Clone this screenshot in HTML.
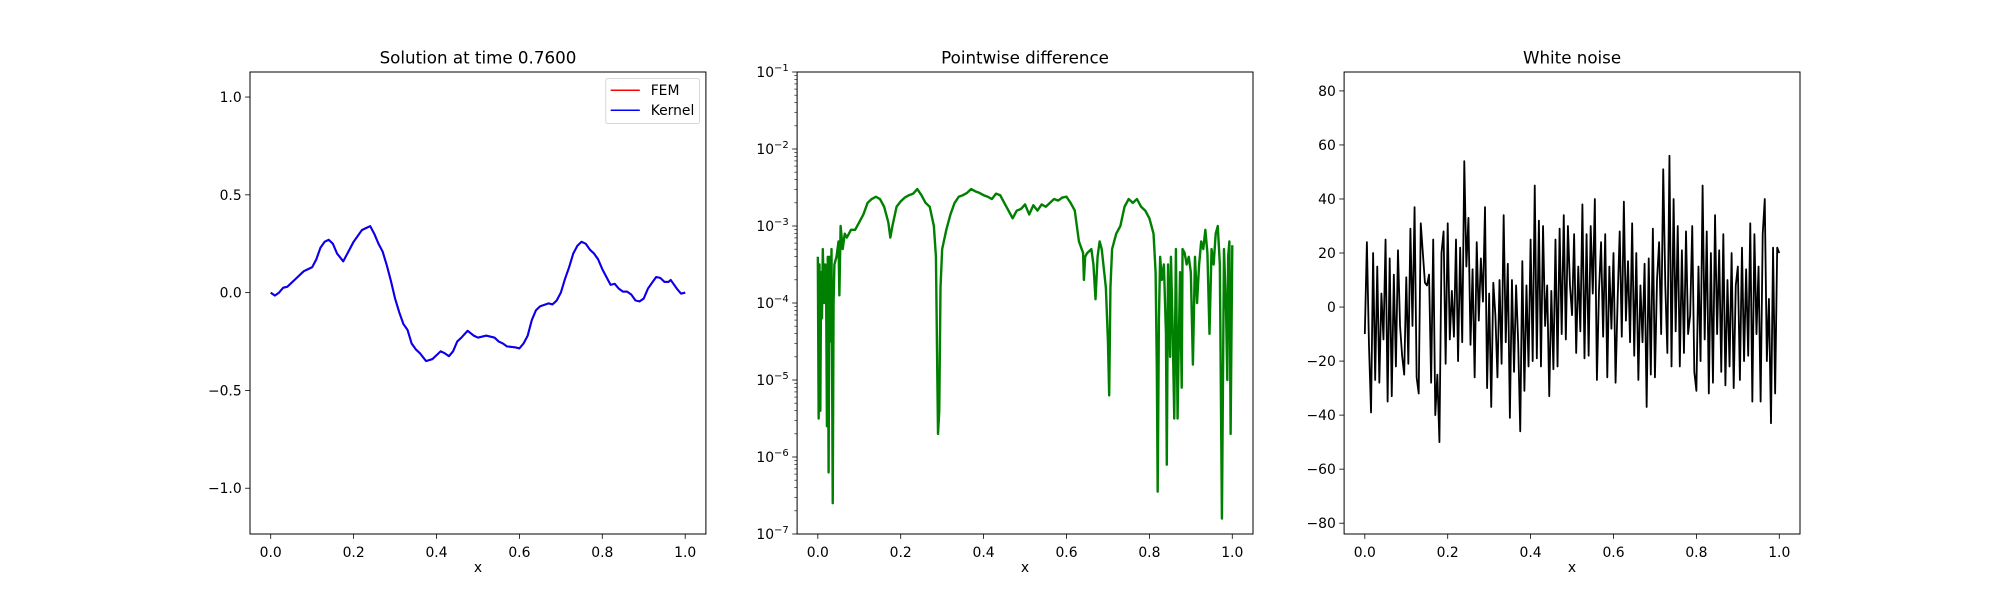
<!DOCTYPE html>
<html><head><meta charset="utf-8"><style>
html,body{margin:0;padding:0;background:#fff}
svg{display:block;font-family:"DejaVu Sans","Liberation Sans",sans-serif}
</style></head><body>
<svg id="fig" width="2000" height="600" viewBox="0 0 2000 600" xmlns="http://www.w3.org/2000/svg"></svg>
<script>
// ---- Data ----
const solX = [0,0.01,0.02,0.03,0.04,0.05,0.06,0.07,0.08,0.09,0.10,0.11,0.12,0.13,0.14,0.15,0.16,0.175,0.19,0.20,0.21,0.22,0.23,0.24,0.25,0.26,0.27,0.28,0.29,0.30,0.31,0.32,0.33,0.34,0.35,0.36,0.375,0.39,0.41,0.42,0.43,0.44,0.45,0.46,0.475,0.49,0.50,0.52,0.54,0.55,0.56,0.57,0.59,0.60,0.61,0.62,0.63,0.64,0.65,0.67,0.68,0.69,0.70,0.71,0.72,0.73,0.74,0.75,0.76,0.77,0.78,0.79,0.80,0.81,0.82,0.83,0.84,0.85,0.86,0.87,0.88,0.89,0.90,0.91,0.92,0.93,0.94,0.95,0.96,0.965,0.98,0.99,1.00];
const solY = [0,-0.015,0,0.025,0.03,0.05,0.07,0.09,0.11,0.12,0.13,0.17,0.23,0.26,0.27,0.25,0.20,0.16,0.22,0.26,0.29,0.32,0.33,0.34,0.30,0.25,0.21,0.14,0.06,-0.03,-0.10,-0.16,-0.19,-0.26,-0.29,-0.31,-0.35,-0.34,-0.30,-0.31,-0.325,-0.30,-0.25,-0.23,-0.195,-0.22,-0.23,-0.22,-0.23,-0.25,-0.26,-0.275,-0.28,-0.285,-0.26,-0.22,-0.14,-0.09,-0.07,-0.055,-0.06,-0.04,0.0,0.07,0.13,0.20,0.24,0.26,0.25,0.22,0.20,0.17,0.12,0.08,0.04,0.045,0.02,0.005,0.005,-0.01,-0.04,-0.045,-0.03,0.02,0.05,0.08,0.075,0.055,0.055,0.065,0.02,-0.005,0.0];
const diffX = [0,0.002,0.004,0.006,0.008,0.01,0.012,0.015,0.018,0.02,0.022,0.024,0.026,0.028,0.03,0.033,0.036,0.038,0.04,0.045,0.05,0.052,0.055,0.06,0.065,0.07,0.08,0.09,0.1,0.11,0.12,0.13,0.14,0.15,0.16,0.17,0.175,0.18,0.19,0.2,0.21,0.22,0.23,0.24,0.25,0.26,0.27,0.28,0.285,0.288,0.29,0.293,0.296,0.3,0.31,0.32,0.33,0.34,0.35,0.36,0.37,0.38,0.39,0.4,0.41,0.42,0.43,0.44,0.45,0.46,0.47,0.48,0.49,0.5,0.51,0.52,0.53,0.54,0.55,0.56,0.57,0.58,0.59,0.6,0.61,0.62,0.63,0.64,0.642,0.645,0.65,0.66,0.665,0.67,0.675,0.68,0.685,0.69,0.695,0.7,0.703,0.706,0.71,0.72,0.73,0.74,0.75,0.76,0.77,0.78,0.79,0.8,0.81,0.815,0.818,0.82,0.823,0.826,0.83,0.835,0.84,0.842,0.845,0.85,0.852,0.856,0.86,0.864,0.868,0.87,0.874,0.878,0.88,0.885,0.89,0.895,0.9,0.905,0.91,0.915,0.92,0.925,0.93,0.935,0.94,0.945,0.95,0.955,0.96,0.965,0.97,0.975,0.98,0.985,0.988,0.99,0.993,0.996,1.0];
const diffLog10 = [-3.4,-5.5,-3.5,-5.4,-3.6,-4.2,-3.3,-4.0,-3.5,-3.8,-5.6,-3.4,-6.2,-3.4,-4.5,-3.3,-6.6,-4.0,-3.5,-3.4,-3.2,-3.9,-3.0,-3.3,-3.1,-3.15,-3.05,-3.05,-2.95,-2.85,-2.7,-2.65,-2.62,-2.65,-2.75,-2.95,-3.15,-3.0,-2.75,-2.68,-2.63,-2.6,-2.58,-2.52,-2.6,-2.7,-2.75,-3.0,-3.4,-4.8,-5.7,-5.4,-3.8,-3.3,-3.05,-2.85,-2.7,-2.62,-2.6,-2.57,-2.52,-2.55,-2.57,-2.6,-2.62,-2.65,-2.58,-2.6,-2.7,-2.8,-2.9,-2.8,-2.78,-2.72,-2.85,-2.73,-2.8,-2.72,-2.75,-2.7,-2.65,-2.67,-2.63,-2.62,-2.7,-2.8,-3.2,-3.35,-3.7,-3.4,-3.35,-3.3,-3.5,-3.95,-3.4,-3.2,-3.3,-3.55,-3.8,-4.5,-5.2,-3.8,-3.3,-3.1,-3.0,-2.75,-2.65,-2.7,-2.65,-2.75,-2.8,-2.9,-3.1,-3.6,-4.9,-6.45,-4.2,-3.4,-3.7,-3.5,-4.4,-6.1,-3.5,-4.7,-3.4,-4.3,-5.5,-3.3,-5.5,-4.8,-3.6,-5.1,-3.3,-3.35,-3.5,-3.4,-3.6,-4.8,-3.4,-4.0,-3.5,-3.2,-3.3,-3.05,-3.35,-4.4,-3.3,-3.5,-3.1,-3.0,-3.5,-6.8,-3.3,-4.1,-5.0,-3.4,-3.2,-5.7,-3.25];
const noiseY = [-10,24,-14,-39,20,-27,15,-28,5,-12,25,-35,18,-33,12,-22,21,-7,-18,-25,11,-21,29,-7,37,-26,-32,31,20,9,8,12,-28,25,-40,-25,-50,20,28,-21,31,-12,6,-11,25,-20,22,-13,54,15,33,-14,14,-26,24,-5,18,2,37,-30,5,-37,9,-3,-26,10,-21,34,-13,16,-41,10,-24,8,-13,-46,17,-31,8,-22,25,-20,45,-19,32,-22,30,-7,8,-33,6,-23,25,-22,29,-10,34,-12,30,8,-3,27,-17,15,-9,38,-19,27,-18,30,5,40,-27,6,24,-11,27,-26,15,-8,20,-28,3,28,-11,39,-5,17,-13,31,-18,20,-27,8,-13,16,-37,18,-25,29,-26,10,24,-10,51,8,-17,56,-22,40,-9,30,-22,21,-17,28,-10,-3,30,-24,-31,15,-20,45,-12,28,-32,20,-28,34,-10,21,-24,27,-29,10,-22,20,-30,8,15,-27,22,-20,14,-18,31,-35,27,-10,15,-35,27,40,-20,3,-43,22,-32,22,20];
const xTicks = [0,0.2,0.4,0.6,0.8,1.0];
const xTickLabels = ["0.0","0.2","0.4","0.6","0.8","1.0"];
const solYTicks = [-1,-0.5,0,0.5,1];
const solYTickLabels = ["\u22121.0","\u22120.5","0.0","0.5","1.0"];
const diffExps = [-7,-6,-5,-4,-3,-2,-1];
const noiseYTicks = [-80,-60,-40,-20,0,20,40,60,80];
const noiseYTickLabels = ["\u221280","\u221260","\u221240","\u221220","0","20","40","60","80"];

// ---- Drawing ----
const NS="http://www.w3.org/2000/svg";
const svg=document.getElementById('fig');
function mk(tag,attrs,parent){const e=document.createElementNS(NS,tag);for(const k in attrs)e.setAttribute(k,attrs[k]);(parent||svg).appendChild(e);return e;}
const TOP=72, BOT=534, W=455.9;
const lefts=[250,797.1,1344.1];

function makeAxes(i,ymin,ymax,log,title,name){
  const L=lefts[i], R=L+W;
  const g=mk('g',{});
  
  
  const sx=v=>L+(v+0.05)/1.1*W;
  const sy=log? v=>BOT-(Math.log10(v)-ymin)/(ymax-ymin)*(BOT-TOP) : v=>BOT-(v-ymin)/(ymax-ymin)*(BOT-TOP);
  const t=mk('text',{x:(L+R)/2,y:TOP-8.3,'text-anchor':'middle','font-size':'16.7px',fill:'#000'},g);
  t.textContent=title;
  
  
  xTicks.forEach((v,k)=>{
    const x=sx(v);
    mk('line',{x1:x,x2:x,y1:BOT,y2:BOT+4.9,stroke:'#000','stroke-width':0.8},g);
    const tl=mk('text',{x:x,y:BOT+23,'text-anchor':'middle','font-size':'13.9px'},g);
    tl.textContent=xTickLabels[k];
    
    
  });
  const xl=mk('text',{x:(L+R)/2,y:572,'text-anchor':'middle','font-size':'13.9px'},g);
  xl.textContent='x';
  
  
  return {g,sx,sy,L,R};
}
function frame(ax){
  const r=mk('rect',{x:ax.L,y:TOP,width:W,height:BOT-TOP,fill:'none',stroke:'#000','stroke-width':1},ax.g);
  
  
}
function yTicksLin(ax,vals,labels){
  vals.forEach((v,k)=>{
    const y=ax.sy(v);
    mk('line',{x1:ax.L-4.9,x2:ax.L,y1:y,y2:y,stroke:'#000','stroke-width':0.8},ax.g);
    const tl=mk('text',{x:ax.L-8.3,y:y+5,'text-anchor':'end','font-size':'13.9px'},ax.g);
    tl.textContent=labels[k];
    
    
  });
}
function line(ax,xs,ys,color,name,fy,w){
  const pts=xs.map((x,k)=>ax.sx(x).toFixed(2)+','+(fy?fy(ys[k]):ax.sy(ys[k])).toFixed(2)).join(' ');
  const p=mk('polyline',{points:pts,fill:'none',stroke:color,'stroke-width':w||1.5,'stroke-linejoin':'round'},ax.g);
  
  
}

// Axes 1
const a1=makeAxes(0,-1.234,1.128,false,'Solution at time 0.7600','solution-chart');
yTicksLin(a1,solYTicks,solYTickLabels);
line(a1,solX,solY,'#ff0000','fem-line',null,2);
line(a1,solX,solY,'#0000ff','kernel-line',null,2);
const lg=mk('g',{},a1.g);


mk('rect',{x:605.8,y:78.6,width:93.7,height:44.9,rx:2,fill:'#fff','fill-opacity':0.8,stroke:'#ccc','stroke-width':0.8},lg);
[['FEM','#ff0000',90.2],['Kernel','#0000ff',110.2]].forEach(([lab,c,y])=>{
  const e=mk('g',{},lg);
  
  
  mk('line',{x1:610.7,x2:639.8,y1:y,y2:y,stroke:c,'stroke-width':1.5},e);
  const t=mk('text',{x:650.7,y:y+5,'font-size':'13.9px'},e);t.textContent=lab;
});
frame(a1);

// Axes 2 (log)
const a2=makeAxes(1,-7,-1,true,'Pointwise difference','difference-chart');
diffExps.forEach(e=>{
  const y=a2.sy(Math.pow(10,e));
  mk('line',{x1:a2.L-4.9,x2:a2.L,y1:y,y2:y,stroke:'#000','stroke-width':0.8},a2.g);
  const t=mk('text',{x:a2.L-8.3,y:y+5,'text-anchor':'end','font-size':'13.9px'},a2.g);
  
  
  const b=document.createElementNS(NS,'tspan');b.textContent='10';t.appendChild(b);
  const s=document.createElementNS(NS,'tspan');s.setAttribute('dy','-6');s.setAttribute('font-size','10px');s.textContent='\u2212'+(-e);t.appendChild(s);
  if(e<-1){for(let m=2;m<=9;m++){const ym=a2.sy(m*Math.pow(10,e));mk('line',{x1:a2.L-2.8,x2:a2.L,y1:ym,y2:ym,stroke:'#000','stroke-width':0.6},a2.g);}}
});
line(a2,diffX,diffLog10,'#008000','difference-line',v=>BOT-(v+7)/6*(BOT-TOP),2.4);
frame(a2);

// Axes 3
const a3=makeAxes(2,-84,87,false,'White noise','noise-chart');
yTicksLin(a3,noiseYTicks,noiseYTickLabels);
const noiseX=noiseY.map((_,k)=>k/(noiseY.length-1));
line(a3,noiseX,noiseY,'#000000','noise-line',null,1.8);
frame(a3);
</script>
</body></html>
